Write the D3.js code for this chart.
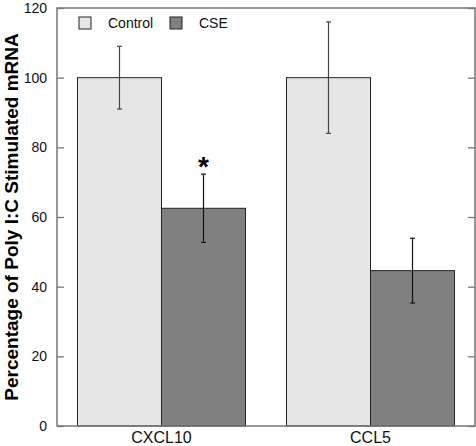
<!DOCTYPE html>
<html><head><meta charset="utf-8">
<script src="https://cdn.jsdelivr.net/npm/d3@7"></script>
<style>body{margin:0;background:#fff}svg{display:block}text{font-family:"Liberation Sans",Arial,sans-serif}</style>
</head><body><svg id="c" width="476" height="446"></svg>
<script>
const categories = ["CXCL10", "CCL5"];
const seriesNames = ["Control", "CSE"];
const controlValues = [100, 100];
const controlErrors = [9, 16];
const cseValues = [62.5, 44.6];
const cseErrors = [9.8, 9.3];
const yTicks = [0, 20, 40, 60, 80, 100, 120];
const significant = [true, false];

const colors = {Control: "#e6e6e6", CSE: "#808080"};
const errColors = {Control: "#444", CSE: "#111"};

const svg = d3.select("#c");
const L = 57, R = 475, T = 8, B = 426;
const y = d3.scaleLinear().domain([0, 120]).range([B, T]);
const x0 = d3.scaleBand().domain(categories).range([L, R]).paddingInner(0.196).paddingOuter(0.098);
const x1 = d3.scaleBand().domain(seriesNames).range([0, x0.bandwidth()]);

const data = categories.map((c, i) => ({
  cat: c,
  vals: [
    {s: "Control", v: controlValues[i], e: controlErrors[i]},
    {s: "CSE", v: cseValues[i], e: cseErrors[i]}
  ]
}));

const g = svg.selectAll("g.grp").data(data).join("g")
  .attr("transform", d => `translate(${x0(d.cat)},0)`);
g.selectAll("rect").data(d => d.vals).join("rect")
  .attr("x", d => x1(d.s)).attr("width", x1.bandwidth())
  .attr("y", d => y(d.v)).attr("height", d => y(0) - y(d.v))
  .attr("fill", d => colors[d.s]).attr("stroke", "#222").attr("stroke-width", 1);
const eb = g.selectAll("g.err").data(d => d.vals).join("g")
  .attr("stroke", d => errColors[d.s]).attr("stroke-width", 1.2);
eb.append("line").attr("x1", d => x1(d.s) + x1.bandwidth()/2).attr("x2", d => x1(d.s) + x1.bandwidth()/2)
  .attr("y1", d => y(d.v + d.e)).attr("y2", d => y(d.v - d.e));
eb.append("line").attr("x1", d => x1(d.s) + x1.bandwidth()/2 - 2.5).attr("x2", d => x1(d.s) + x1.bandwidth()/2 + 2.5)
  .attr("y1", d => y(d.v + d.e)).attr("y2", d => y(d.v + d.e));
eb.append("line").attr("x1", d => x1(d.s) + x1.bandwidth()/2 - 2.5).attr("x2", d => x1(d.s) + x1.bandwidth()/2 + 2.5)
  .attr("y1", d => y(d.v - d.e)).attr("y2", d => y(d.v - d.e));

// significance asterisk
data.forEach((d, i) => {
  if (!significant[i]) return;
  const cse = d.vals[1];
  svg.append("text").attr("x", x0(d.cat) + x1("CSE") + x1.bandwidth()/2)
    .attr("y", y(cse.v + cse.e) + 2).attr("text-anchor", "middle")
    .attr("font-size", 28).attr("font-weight", "bold").text("*");
});

// frame
svg.append("rect").attr("x", L).attr("y", T).attr("width", R - L).attr("height", B - T)
  .attr("fill", "none").attr("stroke", "#777").attr("stroke-width", 1.5);

// left axis (ticks inward)
const yl = d3.axisLeft(y).tickValues(yTicks).tickSize(-7).tickPadding(10);
const ya = svg.append("g").attr("transform", `translate(${L},0)`).call(yl);
ya.select(".domain").remove();
ya.selectAll(".tick line").attr("stroke", "#777").attr("stroke-width", 1.3);
ya.selectAll("text").attr("font-size", 14).attr("fill", "#111").attr("font-family", '"Liberation Sans",Arial,sans-serif');

const yr = d3.axisRight(y).tickValues(yTicks).tickSize(-7).tickFormat("");
const yra = svg.append("g").attr("transform", `translate(${R},0)`).call(yr);
yra.select(".domain").remove();
yra.selectAll(".tick line").attr("stroke", "#777").attr("stroke-width", 1.3);

// x axis labels
const xa = d3.axisBottom(x0).tickSize(0).tickPadding(6);
const xag = svg.append("g").attr("transform", `translate(0,${B})`).call(xa);
xag.select(".domain").remove();
xag.selectAll("text").attr("font-size", 16).attr("fill", "#111").attr("font-family", '"Liberation Sans",Arial,sans-serif');

// y label
svg.append("text").attr("transform", `translate(18,217) rotate(-90)`)
  .attr("text-anchor", "middle").attr("font-size", 19).attr("font-weight", "bold")
  .text("Percentage of Poly I:C Stimulated mRNA");

// legend
const legX = [79, 170];
seriesNames.forEach((s, i) => {
  svg.append("rect").attr("x", legX[i]).attr("y", 17).attr("width", 12).attr("height", 12)
    .attr("fill", colors[s]).attr("stroke", "#222").attr("stroke-width", 1);
  svg.append("text").attr("x", legX[i] + 29).attr("y", 28).attr("font-size", 14).attr("fill", "#111").text(s);
});
</script></body></html>
